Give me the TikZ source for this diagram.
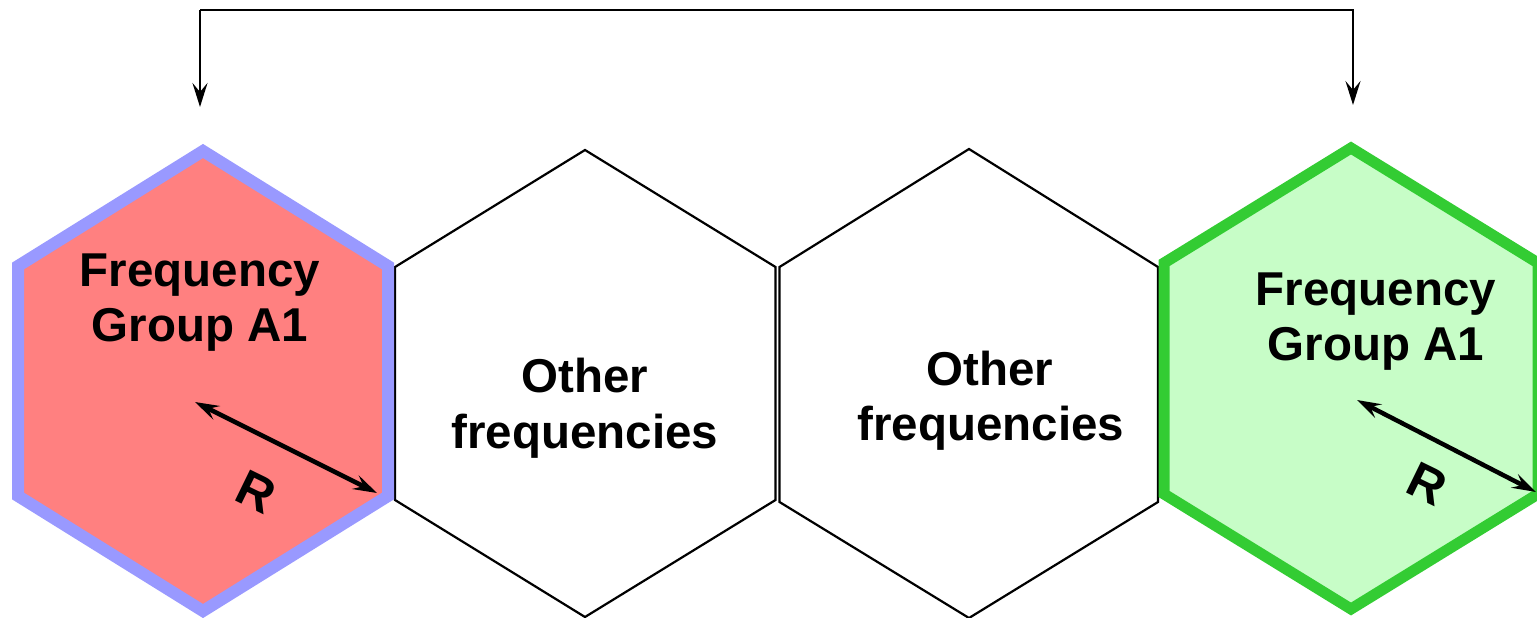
\documentclass[tikz,border=0pt]{standalone}
\usepackage{fontspec}
\setmainfont{Liberation Sans}
\usetikzlibrary{arrows.meta}
\definecolor{cellred}{RGB}{255,128,128}
\definecolor{cellblue}{RGB}{153,153,255}
\definecolor{cellgreen}{RGB}{199,253,199}
\definecolor{edgegreen}{RGB}{51,204,51}
\tikzset{
  lbl/.style={inner sep=0pt, anchor=base, font=\fontsize{47.5}{57}\selectfont\bfseries},
  rlbl/.style={inner sep=0pt, font=\fontsize{50}{60}\selectfont\bfseries, rotate=-26},
  plaincell/.style={draw=black, line width=2.2pt, line join=miter, fill=white},
  redcell/.style={draw=cellblue, fill=cellred, line width=12pt, line join=miter},
  greencell/.style={draw=edgegreen, fill=cellgreen, line width=11pt, line join=miter},
  link/.style={draw=black, line width=2.8pt, line join=miter, -{Stealth[length=24pt,width=15pt,inset=9pt]}},
  radius/.style={draw=black, line width=4.5pt, {Stealth[length=24pt,width=15pt,inset=9pt]}-{Stealth[length=24pt,width=15pt,inset=9pt]}}
}
\begin{document}
\begin{tikzpicture}[x=1pt,y=-1pt]
\useasboundingbox (0,0) rectangle (1537,618);
\clip (0,0) rectangle (1537,618);

% the two cells with other frequencies
\draw[plaincell] (585,150) -- (775.5,267) -- (775.5,500) -- (585,617) -- (395,500) -- (395,267) -- cycle;
\draw[plaincell] (969,149) -- (1158,267) -- (1158,502) -- (969,618) -- (779.5,502) -- (779.5,267) -- cycle;

% the two cells sharing frequency group A1
\draw[redcell] (203,151) -- (388,266) -- (388,496) -- (203,611) -- (18,496) -- (18,266) -- cycle;
\draw[greencell] (1351,148) -- (1538,263) -- (1538,494) -- (1351,609) -- (1164,494) -- (1164,263) -- cycle;

% labels
\node[lbl] (fa) at (200,286) {Frequency};
\node[lbl] (ga) at (200,341) {Group A1};
\node[lbl] (o1) at (585,392) {Other};
\node[lbl] (f1) at (585,448) {frequencies};
\node[lbl] (o2) at (990,385) {Other};
\node[lbl] (f2) at (991,440) {frequencies};
\node[lbl] (fb) at (1376,305) {Frequency};
\node[lbl] (gb) at (1376,360) {Group A1};

% cell radius
\coordinate (ra1) at (195,402);
\coordinate (ra2) at (377,493);
\coordinate (rb1) at (1357,400);
\coordinate (rb2) at (1536,492);
\draw[radius] (ra1) -- (ra2);
\draw[radius] (rb1) -- (rb2);
\node[rlbl] (ra) at (256,492) {R};
\node[rlbl] (rb) at (1427,484) {R};

% reuse link between the two A1 cells
\coordinate (ta) at (200,10);
\coordinate (tb) at (1353,10);
\coordinate (ea) at (200,107);
\coordinate (eb) at (1353,105);
\draw[link] (ta) -- (tb) -- (eb);
\draw[link] (ta) -- (ea);
\end{tikzpicture}
\end{document}
